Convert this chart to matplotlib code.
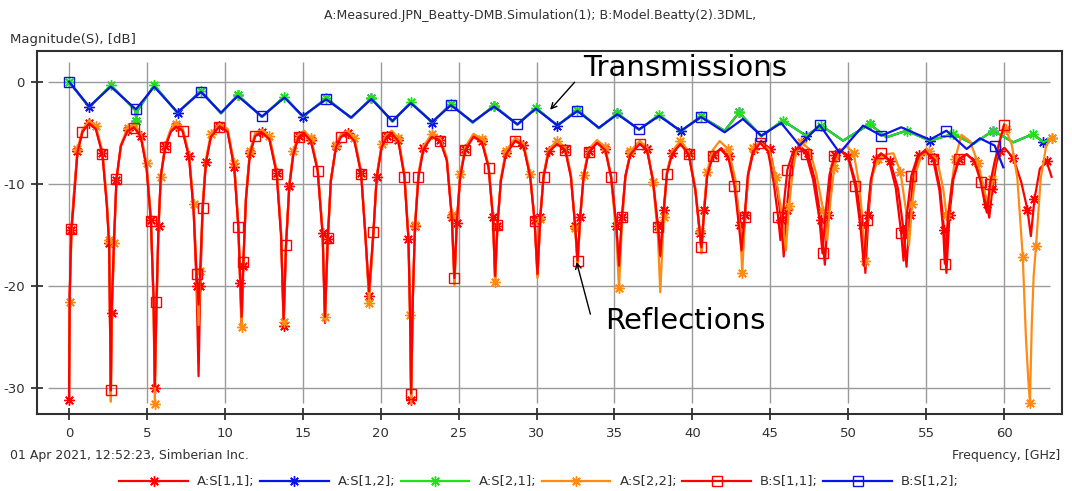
import numpy as np
import matplotlib
matplotlib.use("Agg")
import matplotlib.pyplot as plt
from matplotlib.legend_handler import HandlerLine2D

plt.rcParams['font.family'] = ['DejaVu Sans']
plt.rcParams['axes.unicode_minus'] = False

# ---- reflections, 0 .. 40.6 GHz (shared frequency grid) ----
f_lo = [0, 0.04, 0.15, 0.28, 0.54, 0.86, 1.28, 1.71, 2.14, 2.42, 2.57, 2.68,
        2.74, 2.89, 3.04, 3.32, 3.75, 4.18, 4.6, 4.97, 5.25, 5.42, 5.5,
        5.61, 5.74, 5.89, 6.17, 6.53, 6.85, 7.28, 7.7, 7.99, 8.18, 8.31,
        8.42, 8.57, 8.78, 9.1, 9.64, 10.17, 10.6, 10.86, 10.98, 11.07,
        11.18, 11.35, 11.6, 11.95, 12.38, 12.85, 13.32, 13.6, 13.77,
        13.92, 14.13, 14.39, 14.73, 15.1, 15.52, 15.95, 16.27, 16.42,
        16.6, 16.8, 17.13, 17.45, 17.88, 18.31, 18.74, 19.01, 19.25,
        19.53, 19.74, 20.06, 20.39, 20.71, 21.13, 21.52, 21.78, 21.88, 21.95,
        22.06, 22.2, 22.42, 22.74, 23.28, 23.81, 24.24, 24.56, 24.73,
        24.88, 25.1, 25.42, 25.95, 26.49, 26.92, 27.2, 27.34,
        27.49, 27.71, 28.03, 28.63, 29.16, 29.59, 29.87, 30.06,
        30.24, 30.45, 30.77, 31.31, 31.84, 32.2, 32.48, 32.63,
        32.8, 33.02, 33.34, 33.88, 34.41, 34.78, 35.12, 35.29,
        35.48, 35.7, 36.02, 36.62, 37.09, 37.47, 37.79, 37.94,
        38.16, 38.37, 38.69, 39.23, 39.76, 40.19, 40.47, 40.58]

s11a_lo = [-31.1, -20.8, -14.5, -11.5, -6.8, -4.9, -4.0, -4.5, -7.0, -11.9, -15.8, -30.5,
           -22.6, -15.4, -9.6, -6.3, -4.7, -4.4, -5.3, -8.3, -13.5, -21.3, -30.0,
           -22.0, -14.1, -9.2, -6.3, -4.8, -4.3, -4.7, -7.3, -12.5, -20.0, -28.8,
           -20.0, -12.5, -7.9, -5.3, -4.3, -4.8, -8.3, -14.1, -19.7, -24.2,
           -18.0, -11.5, -7.0, -5.2, -4.9, -5.5, -8.9, -14.8, -23.9,
           -16.1, -10.2, -7.0, -5.3, -5.0, -5.7, -8.6, -14.8, -23.6,
           -15.4, -9.6, -6.3, -5.3, -5.0, -5.7, -8.9, -14.8, -21.0,
           -14.8, -9.3, -6.3, -5.3, -5.0, -5.7, -9.2, -15.4, -22.6, -31.1,
           -21.3, -14.1, -9.2, -6.5, -5.3, -5.7, -7.6, -13.2, -19.7,
           -13.8, -9.2, -6.6, -5.3, -5.8, -8.3, -13.2, -19.5,
           -14.1, -9.6, -7.0, -5.7, -6.2, -9.2, -13.5, -19.0,
           -13.2, -9.2, -6.8, -6.0, -6.6, -9.2, -14.1, -17.7,
           -13.2, -9.2, -6.8, -5.9, -6.6, -9.2, -14.1, -18.4,
           -13.2, -9.2, -7.0, -6.0, -6.6, -9.6, -14.1, -17.1,
           -12.5, -8.9, -7.0, -6.0, -7.0, -10.6, -14.8, -16.7]

s22a_lo = [-30.5, -21.5, -15.2, -12.0, -6.6, -4.7, -3.8, -4.3, -6.8, -11.6, -15.5, -31.3,
           -23.5, -15.8, -9.8, -6.2, -4.5, -4.2, -5.0, -8.0, -13.2, -21.8, -31.5,
           -22.5, -14.5, -9.3, -6.2, -4.6, -4.1, -4.5, -7.1, -12.0, -18.5, -23.8,
           -18.5, -12.0, -7.6, -5.1, -4.1, -4.6, -8.0, -13.8, -19.5, -24.0,
           -17.8, -11.3, -6.8, -5.0, -4.7, -5.3, -8.6, -14.5, -23.5,
           -16.0, -10.0, -6.8, -5.1, -4.8, -5.5, -8.4, -14.6, -23.0,
           -15.6, -9.7, -6.2, -5.1, -4.8, -5.5, -8.7, -14.8, -21.6,
           -14.9, -9.2, -6.1, -5.1, -4.8, -5.5, -9.0, -15.2, -22.8, -31.5,
           -21.0, -14.0, -9.0, -6.3, -5.1, -5.5, -7.4, -13.0, -20.0,
           -14.0, -9.0, -6.4, -5.1, -5.6, -8.2, -13.3, -19.6,
           -14.2, -9.5, -6.8, -5.5, -6.0, -9.0, -13.6, -19.2,
           -13.4, -9.1, -6.6, -5.8, -6.4, -9.0, -14.3, -18.2,
           -13.5, -9.1, -6.6, -5.7, -6.4, -9.4, -15.0, -20.2,
           -14.0, -9.4, -6.8, -5.8, -6.4, -9.8, -15.2, -20.6,
           -13.2, -8.8, -6.8, -5.8, -6.8, -10.4, -14.6, -16.8]

s11b_lo = [-30.6, -20.8, -14.4, -12.2, -6.9, -4.9, -4.1, -4.6, -7.1, -12.0, -16.0, -30.2,
           -22.0, -15.2, -9.5, -6.3, -4.8, -4.5, -5.4, -8.4, -13.6, -21.0, -29.8,
           -21.5, -14.0, -9.2, -6.4, -4.9, -4.4, -4.8, -7.4, -12.6, -18.8, -21.8,
           -18.2, -12.4, -7.9, -5.4, -4.4, -4.9, -8.4, -14.2, -19.4, -23.0,
           -17.6, -11.5, -7.1, -5.3, -5.0, -5.6, -9.0, -15.0, -23.2,
           -16.0, -10.3, -7.1, -5.4, -5.1, -5.8, -8.7, -15.0, -23.0,
           -15.3, -9.7, -6.4, -5.4, -5.1, -5.8, -9.0, -15.0, -20.5,
           -14.7, -9.4, -6.4, -5.4, -5.1, -5.8, -9.3, -15.5, -22.8, -30.5,
           -21.0, -14.2, -9.3, -6.6, -5.4, -5.8, -7.7, -13.3, -19.2,
           -13.8, -9.3, -6.7, -5.4, -5.9, -8.4, -13.3, -19.0,
           -14.0, -9.7, -7.1, -5.8, -6.3, -9.3, -13.6, -18.8,
           -13.2, -9.3, -6.9, -6.1, -6.7, -9.3, -14.2, -17.5,
           -13.2, -9.3, -6.9, -6.0, -6.7, -9.3, -14.1, -18.0,
           -13.2, -9.3, -7.1, -6.1, -6.7, -9.7, -14.2, -17.0,
           -12.6, -9.0, -7.1, -6.1, -7.1, -10.6, -14.6, -16.2]

# ---- reflections above 40.6 GHz (curves drift apart) ----
f_s11a_hi = [40.75, 40.95, 41.3, 41.85, 42.35, 42.75, 43.05, 43.2,
             43.38, 43.6, 43.95, 44.42, 44.95, 45.35, 45.7, 45.86,
             46.05, 46.3, 46.6, 46.9, 47.4, 47.85, 48.25, 48.5,
             48.7, 48.9, 49.15, 49.45, 50.0, 50.5, 50.9, 51.1,
             51.3, 51.5, 51.8, 52.13, 52.7, 53.2, 53.55, 53.74,
             53.95, 54.2, 54.55, 55.0, 55.5, 55.9, 56.15, 56.3,
             56.5, 56.75, 57.1, 57.6, 58.15, 58.6, 58.9, 59.05,
             59.25, 59.5, 59.75, 60.05, 60.6, 61.1, 61.5, 61.72,
             61.95, 62.3, 62.73, 63.05]
s11a_hi = [-12.5, -9.0, -7.2, -6.5, -7.3, -10.0, -14.0, -17.1,
           -13.0, -9.0, -6.6, -5.8, -6.6, -9.5, -13.5, -17.1,
           -12.5, -8.5, -6.8, -6.3, -7.0, -9.5, -13.5, -17.9,
           -13.0, -9.0, -7.2, -6.6, -7.3, -10.0, -14.0, -18.7,
           -13.0, -9.5, -7.6, -7.1, -7.8, -10.5, -14.5, -18.1,
           -13.0, -9.0, -7.2, -6.6, -7.5, -10.5, -14.5, -18.7,
           -13.0, -9.5, -7.6, -7.1, -7.8, -9.8, -12.0, -13.3,
           -10.5, -8.0, -6.8, -6.5, -7.5, -9.8, -12.5, -15.1,
           -11.5, -8.5, -7.8, -9.3]

f_s22a_hi = [40.75, 40.95, 41.3, 41.75, 42.3, 42.75, 43.05, 43.2,
             43.38, 43.6, 43.9, 44.3, 44.9, 45.35, 45.75, 46.0,
             46.2, 46.45, 46.7, 47.0, 47.5, 47.95, 48.4, 48.65,
             48.85, 49.1, 49.45, 49.9, 50.35, 50.7, 50.95, 51.05,
             51.25, 51.5, 51.9, 52.4, 52.9, 53.35, 53.7, 53.9,
             54.1, 54.35, 54.7, 55.2, 55.7, 56.1, 56.3, 56.4,
             56.6, 56.85, 57.27, 57.8, 58.35, 58.75, 59.0,
             59.25, 59.55, 59.8, 60.1, 60.5, 60.85, 61.2, 61.4, 61.55, 61.66,
             61.78, 61.9, 62.05, 62.35, 62.7, 63.05]
s22a_hi = [-12.3, -8.8, -6.7, -5.8, -6.6, -9.5, -14.0, -18.7,
           -13.0, -8.8, -6.5, -5.9, -6.6, -9.3, -13.0, -16.5,
           -12.2, -8.6, -6.6, -5.9, -6.6, -9.0, -12.6, -15.5,
           -11.8, -8.4, -6.8, -6.3, -7.0, -10.0, -14.0, -17.5,
           -12.8, -9.4, -7.6, -7.1, -7.0, -8.8, -12.5, -16.0,
           -12.0, -8.8, -7.2, -6.8, -7.6, -10.5, -13.0, -13.5,
           -10.5, -7.6, -5.2, -5.8, -8.0, -10.8, -12.0,
           -9.5, -6.8, -5.2, -4.6, -6.2, -9.4, -17.1, -24.9, -29.0, -31.4,
           -23.7, -19.0, -16.1, -9.5, -6.3, -5.5]

f_s11b_hi = [40.75, 40.95, 41.3, 41.8, 42.3, 42.7, 43.0, 43.15,
             43.35, 43.55, 43.9, 44.35, 44.85, 45.2, 45.5, 45.65,
             45.85, 46.1, 46.45, 46.8, 47.3, 47.75, 48.15, 48.35,
             48.55, 48.8, 49.1, 49.45, 50.0, 50.45, 50.8, 51.0,
             51.2, 51.45, 51.75, 52.1, 52.6, 53.05, 53.4, 53.55,
             53.75, 54.05, 54.45, 54.95, 55.45, 55.85, 56.1, 56.2,
             56.4, 56.7, 57.1, 57.6, 58.1, 58.5, 58.8, 58.9,
             59.1, 59.4, 59.7, 60.0]
s11b_hi = [-12.8, -9.2, -7.3, -6.6, -7.4, -10.2, -14.3, -16.5,
           -13.2, -9.2, -6.8, -6.0, -6.8, -9.7, -13.2, -15.5,
           -12.2, -8.6, -6.9, -6.4, -7.1, -9.6, -13.4, -16.8,
           -12.8, -9.1, -7.3, -6.7, -7.4, -10.2, -14.4, -18.0,
           -13.5, -9.6, -7.6, -7.0, -7.6, -10.4, -14.8, -17.5,
           -13.2, -9.2, -7.3, -6.8, -7.6, -10.6, -14.6, -17.8,
           -13.2, -9.6, -7.6, -7.1, -7.8, -9.8, -12.2, -12.8,
           -10.0, -7.8, -6.0, -4.2]

# ---- transmissions ----
f_s21a = [0, 1.29, 2.68, 4.25, 4.32, 4.4, 5.46, 6.96, 8.46, 9.75, 10.82, 12.38,
          13.82, 15.0, 16.5, 18.1, 19.4, 20.75, 21.93, 23.3, 24.5, 25.9, 27.27,
          28.77, 29.95, 31.34, 32.62, 34.0, 35.19, 36.58, 37.86, 39.25, 40.55,
          42.07, 43.0, 44.42, 45.8, 47.3, 48.28, 49.67, 51.38, 52.45, 53.74,
          55.24, 56.73, 58.02, 59.3, 60.6, 61.87, 62.52, 63.05]
s21a = [0, -2.5, -0.35, -2.8, -3.8, -2.8, -0.35, -3.05, -0.9, -3.1, -1.3, -3.45,
        -1.45, -3.45, -1.6, -3.55, -1.6, -3.9, -2.0, -4.0, -2.2, -4.0, -2.35,
        -4.2, -2.55, -4.3, -2.75, -4.55, -3.1, -4.7, -3.25, -4.85, -3.4,
        -4.8, -3.0, -5.34, -3.8, -5.28, -4.3, -5.77, -4.14, -5.44, -4.79,
        -5.77, -5.11, -6.09, -4.79, -5.93, -5.11, -5.93, -5.54]
s12a = s21a  # measured structure is reciprocal, S12 sits under S21

f_s12b = [0, 1.29, 2.68, 4.29, 5.46, 6.96, 8.46, 9.75, 10.82, 12.38, 13.82, 15.0,
          16.5, 18.1, 19.4, 20.75, 21.93, 23.3, 24.5, 25.9, 27.27, 28.77, 29.95,
          31.34, 32.62, 34.0, 35.19, 36.58, 37.86, 39.25, 40.55, 42.07, 43.24,
          44.42, 45.7, 46.88, 48.17, 49.45, 50.95, 52.13, 53.4, 55.24, 56.3,
          57.6, 58.45, 59.4, 59.95]
s12b = [0, -2.44, -0.49, -2.7, -0.49, -3.0, -1.0, -3.03, -1.4, -3.4, -1.56, -3.35,
        -1.73, -3.5, -1.7, -3.84, -2.1, -3.94, -2.3, -3.94, -2.44, -4.17, -2.64,
        -4.27, -2.87, -4.5, -3.19, -4.66, -3.35, -4.82, -3.45, -4.95, -3.65,
        -5.28, -4.04, -6.25, -4.23, -6.97, -4.3, -5.28, -4.46, -5.67, -4.79,
        -6.58, -5.54, -6.25, -8.37]

labels = ["A:S[1,1];", "A:S[1,2];", "A:S[2,1];", "A:S[2,2];", "B:S[1,1];", "B:S[1,2];"]
xticks = list(range(0, 61, 5))
yticks = [0, -10, -20, -30]

RED, BLUE, GREEN, ORANGE = "#ff0000", "#0a14e6", "#22e01a", "#ff8a14"
TXT = "#303030"
star = (8, 2, 0)


class EndMarker(HandlerLine2D):
    # line sample with the marker sitting at its right end
    def get_xdata(self, legend, xdescent, ydescent, width, height, fontsize):
        xdata = np.array([-xdescent, -xdescent + width])
        return xdata, np.array([-xdescent + width])


fig = plt.figure(figsize=(10.72, 4.91), dpi=100)
ax = fig.add_axes([0.0342, 0.1568, 0.9562, 0.7393])

# grid only spans the data box, not the whole frame
ax.vlines(xticks, -31.4, 1.9, color="#9a9a9a", lw=1.0, zorder=0)
ax.hlines(yticks, -1.35, 62.95, color="#9a9a9a", lw=1.0, zorder=0)

lw = 1.6
ms_star, ms_sq = 7.5, 7
ax.plot(f_lo + f_s11a_hi, s11a_lo + s11a_hi, color=RED, lw=lw, marker=star, ms=ms_star,
        mew=1.0, markevery=(0, 2), label=labels[0])
ax.plot(f_s21a, s12a, color=BLUE, lw=lw, marker=star, ms=ms_star, mew=1.0,
        markevery=(1, 3), label=labels[1])
ax.plot(f_s21a, s21a, color=GREEN, lw=lw, marker=star, ms=ms_star, mew=1.0,
        markevery=(0, 2), label=labels[2])
ax.plot(f_lo + f_s22a_hi, s22a_lo + s22a_hi, color=ORANGE, lw=lw, marker=star, ms=ms_star,
        mew=1.0, markevery=(1, 3), label=labels[3])
ax.plot(f_lo + f_s11b_hi, s11b_lo + s11b_hi, color=RED, lw=lw, marker="s", ms=ms_sq,
        mfc="none", mew=1.0, markevery=(2, 3), label=labels[4])
ax.plot(f_s12b, s12b, color=BLUE, lw=lw, marker="s", ms=ms_sq, mfc="none", mew=1.0,
        markevery=(0, 3), label=labels[5])

ax.set_xlim(-2.08, 63.7)
ax.set_ylim(-32.5, 3.0)
ax.set_xticks(xticks)
ax.set_yticks(yticks)
ax.tick_params(direction="inout", length=9, width=1.2, colors="#222222",
               labelsize=9.5, labelcolor=TXT)
ax.tick_params(axis="x", pad=5)
ax.tick_params(axis="y", pad=4)
for sp in ax.spines.values():
    sp.set_linewidth(1.5)
    sp.set_color("#303030")

# annotations
ax.text(32.97, 1.35, "Transmissions", fontsize=21, ha="left", va="center", color="black")
ax.annotate("", xy=(30.75, -2.95), xytext=(32.56, 0.15),
            arrowprops=dict(arrowstyle="->", color="black", lw=1.0))
ax.text(34.38, -23.4, "Reflections", fontsize=21, ha="left", va="center", color="black")
ax.annotate("", xy=(32.52, -17.36), xytext=(33.5, -23.0),
            arrowprops=dict(arrowstyle="->", color="black", lw=1.0))

fig.text(0.504, 1 - 15 / 491, "A:Measured.JPN_Beatty-DMB.Simulation(1); B:Model.Beatty(2).3DML,",
         ha="center", va="center", fontsize=9, color=TXT)
fig.text(10 / 1072, 1 - 40 / 491, "Magnitude(S), [dB]", ha="left", va="center",
         fontsize=9.5, color=TXT)
fig.text(10 / 1072, 1 - 456 / 491, "01 Apr 2021, 12:52:23, Simberian Inc.", ha="left",
         va="center", fontsize=9, color=TXT)
fig.text(1060 / 1072, 1 - 456 / 491, "Frequency, [GHz]", ha="right", va="center",
         fontsize=9, color=TXT)

fig.legend(loc="center", bbox_to_anchor=(0.503, 1 - 482 / 491), ncol=6, frameon=False,
           fontsize=9.5, handlelength=5.2, handletextpad=0.7, columnspacing=0.4,
           handler_map={plt.Line2D: EndMarker()}, labelcolor=TXT)

fig.savefig("out.png", dpi=100)
